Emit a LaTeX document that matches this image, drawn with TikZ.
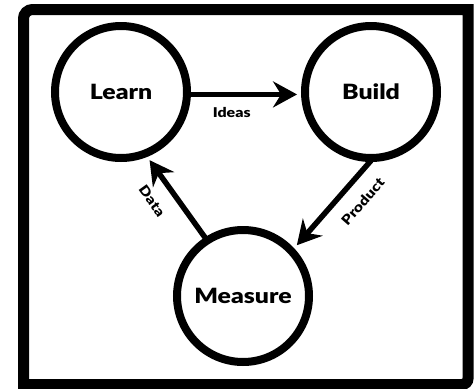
\documentclass[tikz,border=0pt]{standalone}
\usepackage{fontspec}
\setmainfont{Lato}[FakeStretch=1.18, BoldFont={Lato Black}]
\usetikzlibrary{arrows.meta}
\tikzset{
  stage/.style={circle, draw=black, line width=8pt, minimum size=132pt, inner sep=0pt,
    font=\fontsize{21}{25}\selectfont\bfseries},
  flow/.style={line width=5.5pt, -{Stealth[length=24pt, width=26pt, inset=8pt]}},
  flowlabel/.style={font=\fontsize{13.5}{16}\selectfont\bfseries, inner sep=1pt},
  frame/.style={line width=11pt, line join=miter}
}
\begin{document}
\begin{tikzpicture}[x=1pt, y=-1pt]
\useasboundingbox (0,0) rectangle (475,389);
\fill[white] (0,0) rectangle (475,389);
% frame
\draw[frame] (23.5,384.5) -- (23.5,20) [rounded corners=9pt] -- (23.5,9.5) -- (100,9.5) [sharp corners] -- (468,9.5) -- (468,370) [rounded corners=6pt] -- (468,384.5) -- (400,384.5) [sharp corners] -- cycle;
% stages
\node[stage] (learn) at (121,92) {Learn};
\node[stage] (build) at (371,92) {Build};
\node[stage] (measure) at (243,296) {Measure};
% connectors
\draw[flow, shorten >=4pt, shorten <=-2pt] (learn.-2) -- node[flowlabel, below=9pt, pos=0.37] {Ideas} (build.182);
\draw[flow, shorten >=4pt, shorten <=-2pt] (build.-91) -- node[flowlabel, sloped, below=12pt, pos=0.30] {Product} (measure.43);
\draw[flow, shorten >=4pt, shorten <=-2pt] (measure.123) -- node[flowlabel, sloped, below=13pt, pos=0.61] {Data} (learn.-68);
\end{tikzpicture}
\end{document}
